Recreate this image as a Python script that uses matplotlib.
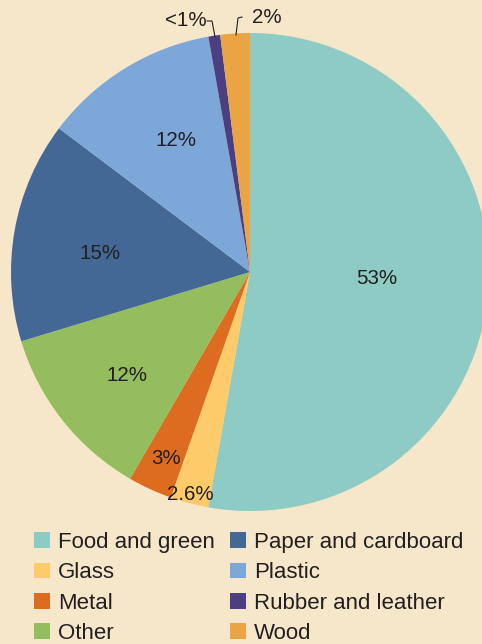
import matplotlib.pyplot as plt

# Waste composition (percent)
categories = ["Food and green", "Glass", "Metal", "Other",
              "Paper and cardboard", "Plastic", "Rubber and leather", "Wood"]
shares = [53, 2.6, 3, 12, 15, 12, 0.8, 2]
labels = ["53%", "2.6%", "3%", "12%", "15%", "12%", "<1%", "2%"]
colors = ["#8ECBC5", "#FDCB6A", "#DD6B20", "#94BD5E",
          "#436895", "#7DA7D9", "#4B3F82", "#EBA444"]

BG = "#F6E7CB"
TXT = "#231F20"
W, H = 482, 644

plt.rcParams['font.family'] = ['Liberation Sans', 'DejaVu Sans']

fig = plt.figure(figsize=(W / 100, H / 100), dpi=100, facecolor=BG)
ax = fig.add_axes([0, 0, 1, 1])
ax.set_facecolor(BG)

def fy(y):
    # pixel row (from top) -> data y
    return H - y

wedges, _ = ax.pie(shares, colors=colors, startangle=90, counterclock=False,
                   center=(250, fy(272)), radius=239)

ax.set_xlim(0, W)
ax.set_ylim(0, H)
ax.set_aspect('equal')
ax.axis('off')

# label placement (pixel coords from the top-left)
label_pos = [(377, 278), (190, 494), (166, 458), (127, 375),
             (100, 253), (176, 140), (186, 20), (267, 17)]
for txt, (x, y) in zip(labels, label_pos):
    ax.text(x, fy(y), txt, ha='center', va='center', fontsize=14.8, color=TXT)

# small leader lines for the thin slices
ax.plot([207, 212, 215], [fy(21), fy(21), fy(37)], color=TXT, lw=0.8)
ax.plot([242, 238, 236], [fy(17), fy(18), fy(35)], color=TXT, lw=0.8)

leg = ax.legend(wedges, categories, ncol=2, loc='upper left',
                bbox_to_anchor=(34, fy(532)), bbox_transform=ax.transData,
                frameon=False, fontsize=16.0, handlelength=0.72, handleheight=0.72,
                handletextpad=0.36, columnspacing=0.68, labelspacing=0.42,
                borderpad=0, borderaxespad=0)
for t in leg.get_texts():
    t.set_color(TXT)

fig.savefig("out.png", dpi=100, facecolor=BG)
